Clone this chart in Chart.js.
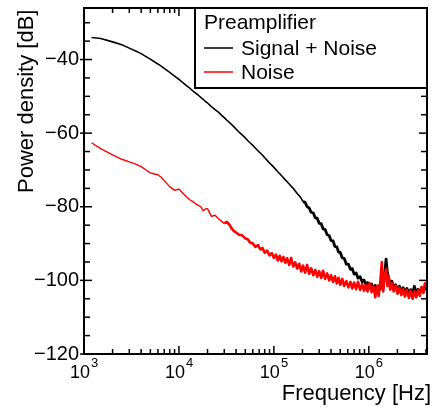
<!DOCTYPE html>
<html lang="en">
  <head>
    <meta charset="UTF-8" />
    <title>Preamplifier power density</title>
    <script src="https://cdn.jsdelivr.net/npm/chart.js@4.4.0/dist/chart.umd.min.js"></script>
    <style>
      html,
      body {
        margin: 0;
        padding: 0;
        background: #fff;
      }
    </style>
  </head>
  <body>
    <canvas id="psd" width="437" height="407"></canvas>

    <script>
      // frequency grid [Hz]
      const freqHz = [
        1.2e3, 1.5e3, 2e3, 2.5e3, 3e3, 3.5e3, 4e3, 4.5e3, 5e3, 5.5e3, 6e3,
        6.5e3, 7e3, 8e3, 9e3, 1e4, 1.1e4, 1.2e4, 1.3e4, 1.4e4, 1.5e4, 1.6e4,
        1.7e4, 1.8e4, 1.9e4, 2e4, 2.2e4, 2.4e4, 2.6e4, 2.8e4, 3e4, 3.2e4,
        3.4e4, 3.6e4, 3.8e4, 4e4, 4.3e4, 4.6e4, 5e4, 5.3e4, 5.6e4, 6e4, 6.4e4,
        6.8e4, 7.2e4, 7.6e4, 8e4, 8.5e4, 9e4, 9.5e4, 1e5,
        1.05e5, 1.1e5, 1.15e5, 1.2e5, 1.26e5, 1.32e5, 1.38e5, 1.45e5, 1.52e5,
        1.6e5, 1.68e5, 1.76e5, 1.85e5, 1.94e5, 2.03e5, 2.13e5, 2.24e5, 2.35e5,
        2.47e5, 2.6e5, 2.73e5, 2.86e5, 3e5, 3.15e5, 3.3e5, 3.47e5, 3.64e5,
        3.82e5, 4e5, 4.2e5, 4.4e5, 4.6e5, 4.8e5, 5e5, 5.25e5, 5.5e5, 5.8e5,
        6.1e5, 6.4e5, 6.7e5, 7e5, 7.35e5, 7.7e5, 8.1e5, 8.5e5, 8.9e5, 9.3e5,
        9.7e5, 1.02e6, 1.07e6, 1.12e6, 1.17e6, 1.22e6, 1.27e6, 1.32e6, 1.37e6,
        1.42e6, 1.47e6, 1.52e6, 1.57e6, 1.62e6, 1.68e6, 1.75e6, 1.83e6,
        1.92e6, 2.01e6, 2.1e6, 2.2e6, 2.3e6, 2.4e6, 2.52e6, 2.64e6, 2.76e6,
        2.89e6, 3.02e6, 3.16e6, 3.3e6, 3.45e6, 3.6e6, 3.75e6, 3.9e6, 4.05e6,
      ];

      // Signal + Noise [dB]
      const signalDb = [
        -34.0, -34.3, -35.2, -36.0, -36.9, -37.7, -38.4, -39.2, -39.9, -40.6,
        -41.2, -41.8, -42.4, -43.5, -44.5, -45.4, -46.3, -47.1, -47.8, -48.5,
        -49.1, -49.7, -50.3, -50.8, -51.4, -51.8, -52.8, -53.6, -54.3, -55.1,
        -55.8, -56.5, -57.1, -57.7, -58.3, -58.9, -59.7, -60.4, -61.3, -62.0,
        -62.6, -63.3, -64.1, -64.8, -65.4, -66.0, -66.7, -67.4, -68.1, -68.7,
        -69.3,
        -69.9, -70.5, -71.0, -71.5, -72.1, -72.7, -73.2, -73.8, -74.4, -75.0,
        -75.7, -76.4, -77.0, -77.7, -78.6, -78.8, -80.0, -80.3, -81.5, -81.7,
        -83.0, -83.1, -84.5, -84.6, -86.0, -86.2, -87.6, -87.8, -89.2, -89.3,
        -90.8, -90.9, -92.3, -92.4, -93.9, -94.0, -95.6, -95.6, -97.0, -96.8,
        -98.3, -98.0, -99.4, -99.0, -100.4, -99.9, -101.2, -100.6, -101.8,
        -101.0, -102.3, -101.4, -102.6, -101.5, -102.4, -99.0, -101.0, -98.0,
        -94.2, -98.0, -99.5, -101.0, -100.2, -102.0, -101.2, -102.6, -101.6,
        -103.0, -102.0, -103.3, -102.2, -103.6, -102.5, -103.8, -101.6, -103.6,
        -102.4, -103.4, -102.0, -103.2, -101.8, -102.6,
      ];

      // Noise [dB]
      const noiseDb = [
        -62.6, -64.2, -65.9, -67.1, -67.8, -68.4, -69.1, -70.0, -70.8, -71.1,
        -71.3, -72.0, -72.9, -74.6, -75.5, -75.2, -76.3, -77.3, -78.1, -78.6,
        -79.2, -79.6, -80.0, -81.1, -80.6, -80.5, -82.6, -82.3, -83.2, -83.9,
        -84.5, -84.1, -84.9, -85.9, -86.6, -87.0, -87.6, -87.7, -88.6, -88.8,
        -89.7, -90.0, -90.9, -90.4, -91.6, -91.2, -92.5, -91.9, -93.2, -92.6,
        -93.9,
        -93.0, -94.6, -93.3, -94.8, -93.6, -95.2, -94.0, -95.8, -93.9, -96.2,
        -95.1, -96.8, -95.5, -97.6, -96.0, -97.9, -95.8, -98.2, -96.7, -98.6,
        -97.2, -99.0, -97.5, -99.3, -97.4, -99.6, -98.1, -100.0, -98.6, -100.4,
        -98.9, -100.8, -99.3, -101.2, -99.6, -101.5, -100.2, -101.9, -100.4,
        -102.2, -100.6, -102.4, -100.4, -102.6, -101.0, -102.8, -101.2, -103.0,
        -100.8, -103.2, -101.6, -104.6, -101.5, -104.2, -100.5, -95.0, -103.0,
        -98.5, -97.0, -101.5, -98.8, -102.5, -100.8, -103.0, -101.4, -103.6,
        -102.0, -104.0, -102.4, -104.4, -102.6, -104.8, -102.8, -105.0, -103.0,
        -104.6, -102.6, -104.2, -101.8, -103.4, -100.8, -101.6,
      ];

      const yMajorTicks = [-120, -100, -80, -60, -40];
      const yMinorTicks = [
        -115, -110, -105, -95, -90, -85, -75, -70, -65, -55, -50, -45, -35, -30,
      ];
      const xDecades = [3, 4, 5, 6];
      const xMinorMult = [2, 3, 4, 5, 6, 7, 8, 9];
      const legendTitle = "Preamplifier";
      const seriesNames = ["Signal + Noise", "Noise"];
      const seriesColors = ["#000000", "#ff0000"];

      const FONT = "'Liberation Sans', Arial, sans-serif";

      const toPoints = (vals) => freqHz.map((f, i) => ({ x: f, y: vals[i] }));

      // thicker stroke where the trace is noisy
      const noisyWidth = (from, thin, thick) => (ctx) =>
        ctx.p0.parsed.x >= from ? thick : thin;

      // ticks, frame, legend and axis texts
      const decorations = {
        id: "decorations",
        afterDatasetsDraw(chart) {
          const { ctx, chartArea: a, scales } = chart;
          const xs = scales.x;
          const ys = scales.y;
          ctx.save();
          ctx.strokeStyle = "#000";
          ctx.lineWidth = 1.5;
          const line = (x1, y1, x2, y2) => {
            ctx.beginPath();
            ctx.moveTo(x1, y1);
            ctx.lineTo(x2, y2);
            ctx.stroke();
          };

          xDecades.forEach((d) => {
            const p = xs.getPixelForValue(10 ** d);
            line(p, a.bottom, p, a.bottom - 8);
            line(p, a.top, p, a.top + 8);
            xMinorMult.forEach((m) => {
              const v = m * 10 ** d;
              if (v > xs.max) return;
              const q = xs.getPixelForValue(v);
              line(q, a.bottom, q, a.bottom - 5);
              line(q, a.top, q, a.top + 5);
            });
          });
          yMajorTicks.forEach((v) => {
            const p = ys.getPixelForValue(v);
            line(a.left - 4, p, a.left + 8, p);
            line(a.right, p, a.right - 8, p);
          });
          yMinorTicks.forEach((v) => {
            const p = ys.getPixelForValue(v);
            line(a.left, p, a.left + 6, p);
            line(a.right, p, a.right - 6, p);
          });

          // legend box
          const lx = 195,
            ly = a.top,
            lw = a.right - lx,
            lh = 80;
          ctx.fillStyle = "#fff";
          ctx.fillRect(lx, ly, lw, lh);
          ctx.lineWidth = 2;
          ctx.strokeRect(lx, ly, lw, lh);
          ctx.fillStyle = "#000";
          ctx.font = `21px ${FONT}`;
          ctx.textBaseline = "alphabetic";
          ctx.textAlign = "left";
          ctx.fillText(legendTitle, 204, ly + 21);
          seriesNames.forEach((name, i) => {
            const base = ly + 47 + i * 24;
            ctx.strokeStyle = seriesColors[i];
            ctx.lineWidth = 1.5;
            line(204, base - 7, 233, base - 7);
            ctx.fillText(name, 241, base);
          });

          // frame
          ctx.strokeStyle = "#000";
          ctx.lineWidth = 2;
          ctx.strokeRect(a.left, a.top, a.right - a.left, a.bottom - a.top);

          // x tick labels 10^n
          xDecades.forEach((d) => {
            const p = xs.getPixelForValue(10 ** d);
            ctx.textAlign = "right";
            ctx.font = `18px ${FONT}`;
            ctx.fillText("10", p + 6, 378);
            ctx.textAlign = "left";
            ctx.font = `13px ${FONT}`;
            ctx.fillText(String(d), p + 7, 367);
          });

          // axis titles
          ctx.font = `22px ${FONT}`;
          ctx.textAlign = "right";
          ctx.fillText("Frequency [Hz]", 431, 400);
          ctx.save();
          ctx.translate(33, 193);
          ctx.rotate(-Math.PI / 2);
          ctx.textAlign = "left";
          ctx.fillText("Power density [dB]", 0, 0);
          ctx.restore();

          ctx.restore();
        },
      };

      new Chart(document.getElementById("psd"), {
        type: "line",
        data: {
          datasets: [
            {
              label: seriesNames[1],
              data: toPoints(noiseDb),
              borderColor: seriesColors[1],
              borderWidth: 1.4,
              segment: { borderWidth: noisyWidth(3e4, 1.4, 2.6) },
              order: 1,
            },
            {
              label: seriesNames[0],
              data: toPoints(signalDb),
              borderColor: seriesColors[0],
              borderWidth: 1.6,
              segment: { borderWidth: noisyWidth(2e5, 1.6, 2.8) },
              order: 2,
            },
          ],
        },
        options: {
          responsive: false,
          animation: false,
          events: [],
          elements: {
            point: { radius: 0 },
            line: { tension: 0, borderJoinStyle: "round", fill: false },
          },
          layout: { padding: { top: 8, right: 10, left: 0, bottom: 0 } },
          plugins: {
            legend: { display: false },
            tooltip: { enabled: false },
          },
          scales: {
            x: {
              type: "logarithmic",
              min: 1000,
              max: 4.1e6,
              grid: { display: false, drawTicks: false },
              border: { display: false },
              ticks: { display: false },
              afterFit: (s) => {
                s.height = 53;
                s.paddingLeft = 0;
                s.paddingRight = 0;
              },
            },
            y: {
              min: -120,
              max: -26,
              grid: { display: false, drawTicks: false },
              border: { display: false },
              afterBuildTicks: (s) => {
                s.ticks = yMajorTicks.map((v) => ({ value: v }));
              },
              ticks: {
                color: "#000",
                padding: 5,
                font: { family: FONT, size: 20 },
                callback: (v) => "\u2212" + Math.abs(v),
              },
              afterFit: (s) => {
                s.width = 84;
                s.paddingTop = 0;
                s.paddingBottom = 0;
              },
            },
          },
        },
        plugins: [decorations],
      });
    </script>
  </body>
</html>
